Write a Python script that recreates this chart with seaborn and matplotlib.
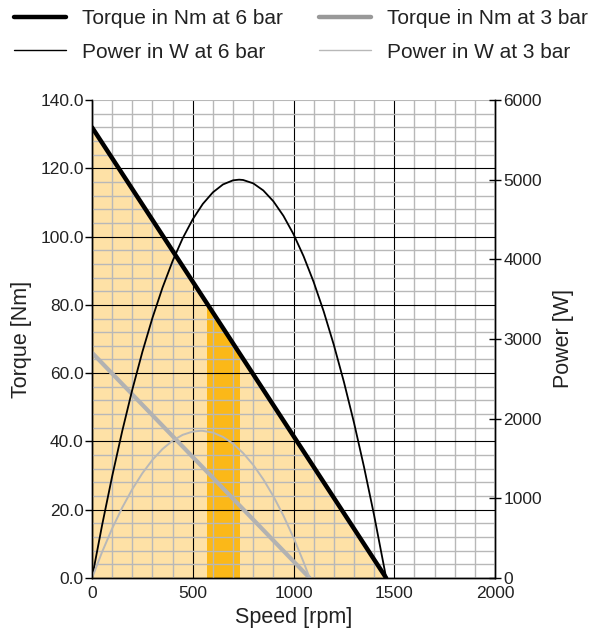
import numpy as np
import pandas as pd
import seaborn as sns
import matplotlib.pyplot as plt
from matplotlib.lines import Line2D

# values
speed_t6 = [0, 1460]
torque_6 = [132, 0]
speed_t3 = [0, 1080]
torque_3 = [66, 0]

speed_p6 = [0, 50, 100, 150, 200, 250, 300, 350, 400, 450, 500, 550, 600, 650, 700, 730,
            750, 800, 850, 900, 950, 1000, 1050, 1100, 1150, 1200, 1250, 1300, 1350, 1400, 1460]
power_6 = [0, 662, 1276, 1844, 2364, 2838, 3265, 3645, 3978, 4264, 4503, 4696, 4841, 4940, 4992, 5000,
           4996, 4954, 4865, 4729, 4546, 4316, 4039, 3716, 3345, 2927, 2463, 1952, 1393, 788, 0]

speed_p3 = [0, 50, 100, 150, 200, 250, 300, 350, 400, 450, 500, 540, 550, 600, 650, 700,
            750, 800, 850, 900, 950, 1000, 1050, 1080]
power_3 = [0, 326, 621, 884, 1115, 1315, 1483, 1619, 1724, 1797, 1838, 1848, 1847, 1825, 1771, 1686,
           1568, 1420, 1239, 1027, 783, 507, 200, 0]

band_speed = [570, 735]   # highlighted operating range

sns.set_style("white")
plt.rcParams['font.family'] = ['Liberation Sans', 'DejaVu Sans']

fig = plt.figure(figsize=(5.92, 6.33), dpi=100)
ax = fig.add_axes([92/592, 1-578/633, (495-92)/592, (578-100)/633])
ax2 = ax.twinx()

# shaded area under the 6 bar torque line
light = ax.fill_between(speed_t6, torque_6, color="#FEE1A6", lw=0, zorder=1)
band = ax.axvspan(band_speed[0], band_speed[1], color="#FBB818", lw=0, zorder=1.2)
band.set_clip_path(light.get_paths()[0], light.get_transform())

# grid
ax.set_xlim(0, 2000)
ax.set_ylim(0, 140)
ax.set_xticks(np.arange(0, 2001, 500))
ax.set_xticks(np.arange(0, 2001, 100), minor=True)
ax.set_yticks(np.arange(0, 141, 20))
ax.set_yticks(np.arange(0, 141, 4), minor=True)
ax.grid(which="minor", color="#B8B8B8", lw=1.0, zorder=2)
ax.grid(which="major", color="black", lw=0.8, zorder=2.2)
ax.set_axisbelow(False)
ax.yaxis.get_gridlines()[-1].set_color("#B8B8B8")
ax.set_yticklabels([f"{v:.1f}" for v in np.arange(0, 141, 20)])

df6 = pd.DataFrame({"speed": speed_t6, "torque": torque_6})
df3 = pd.DataFrame({"speed": speed_t3, "torque": torque_3})
sns.lineplot(data=df6, x="speed", y="torque", color="black", lw=3.2, ax=ax, zorder=4)
sns.lineplot(data=df3, x="speed", y="torque", color="#B2B2B2", lw=3.0, ax=ax, zorder=4)

dp6 = pd.DataFrame({"speed": speed_p6, "power": power_6})
dp3 = pd.DataFrame({"speed": speed_p3, "power": power_3})
sns.lineplot(data=dp6, x="speed", y="power", color="black", lw=1.3, ax=ax2)
sns.lineplot(data=dp3, x="speed", y="power", color="#B8B8B8", lw=1.4, ax=ax2)
ax2.set_ylim(0, 6000)
ax2.set_yticks(np.arange(0, 6001, 1000))
ax2.set_xlim(0, 2000)

for a in (ax, ax2):
    a.spines["top"].set_visible(False)
    for s in ("left", "right", "bottom"):
        a.spines[s].set_color("black")
        a.spines[s].set_linewidth(1.0)

ax.tick_params(axis="x", which="both", length=0, labelsize=12.5, pad=6, colors="#222222")
ax.tick_params(axis="y", which="major", length=5, width=1, direction="out", labelsize=12.5, pad=1, colors="#222222")
ax.tick_params(axis="y", which="minor", length=0)
ax2.tick_params(axis="y", which="major", length=8, width=1, direction="inout", labelsize=12.5, pad=2, colors="#222222")
for a in (ax, ax2):
    a.tick_params(axis="y", color="black")

ax.set_xlabel("Speed [rpm]", fontsize=15.5, labelpad=4, color="#222222")
ax.set_ylabel("Torque [Nm]", fontsize=15.5, labelpad=6, color="#222222")
ax2.set_ylabel("Power [W]", fontsize=15.5, labelpad=8, color="#222222")

handles = [
    Line2D([], [], color="black", lw=3.2),
    Line2D([], [], color="black", lw=1.0),
    Line2D([], [], color="#999999", lw=3.2),
    Line2D([], [], color="#B8B8B8", lw=1.0),
]
labels = ["Torque in Nm at 6 bar", "Power in W at 6 bar",
          "Torque in Nm at 3 bar", "Power in W at 3 bar"]
leg = fig.legend(handles, labels, ncol=2, loc="upper left", bbox_to_anchor=(14/592, 1-9/633),
                 frameon=False, fontsize=15, handlelength=2.5, handletextpad=0.75,
                 columnspacing=1.75, labelspacing=0.7, borderpad=0, borderaxespad=0)
for t in leg.get_texts():
    t.set_color("#222222")

fig.savefig("out.png", dpi=100)
